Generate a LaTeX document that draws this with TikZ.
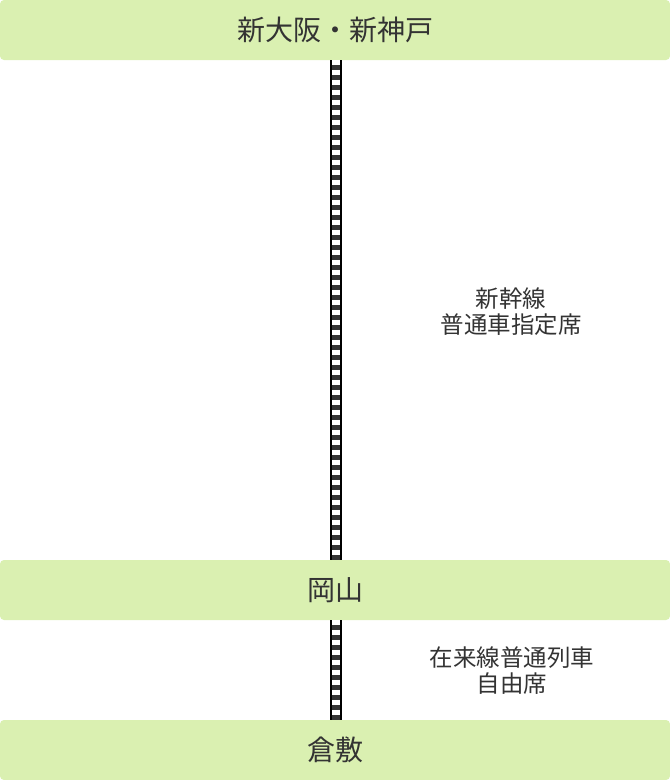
\documentclass[tikz,border=0pt]{standalone}
\usepackage{fontspec}
\setmainfont{Noto Sans CJK JP}
\definecolor{bargreen}{HTML}{DAF0B1}
\definecolor{txt}{HTML}{333333}
\definecolor{tie}{HTML}{333333}
\begin{document}
\begin{tikzpicture}[x=1pt,y=-1pt,
  bar/.style={fill=bargreen,rounded corners=4pt,minimum width=670pt,minimum height=60pt,inner sep=0pt,text=txt,font=\fontsize{28}{32}\selectfont},
  note/.style={align=center,text=txt,font=\fontsize{23.5}{26}\selectfont,inner sep=0pt},
  railout/.style={draw=black,line width=12pt},
  railin/.style={draw=white,line width=8pt},
  railtie/.style={draw=tie,line width=8pt,dash pattern=on 5pt off 5pt,dash phase=5pt}]
\useasboundingbox (0,0) rectangle (670,780);
\node[bar] (osaka) at (335,30) {新大阪・新神戸};
\node[bar] (okayama) at (335,590) {岡山};
\node[bar] (kurashiki) at (335,750) {倉敷};
\coordinate (a1) at (336,60);
\coordinate (a2) at (336,560);
\coordinate (b1) at (336,620);
\coordinate (b2) at (336,720);
\foreach \s/\e in {a1/a2,b1/b2}{
  \draw[railout] (\s) -- (\e);
  \draw[railin] (\s) -- (\e);
  \draw[railtie] (\s) -- (\e);
}
\node[note] (n1) at (511,312) {新幹線\\普通車指定席};
\node[note] (n2) at (512,671) {在来線普通列車\\自由席};
\end{tikzpicture}
\end{document}
